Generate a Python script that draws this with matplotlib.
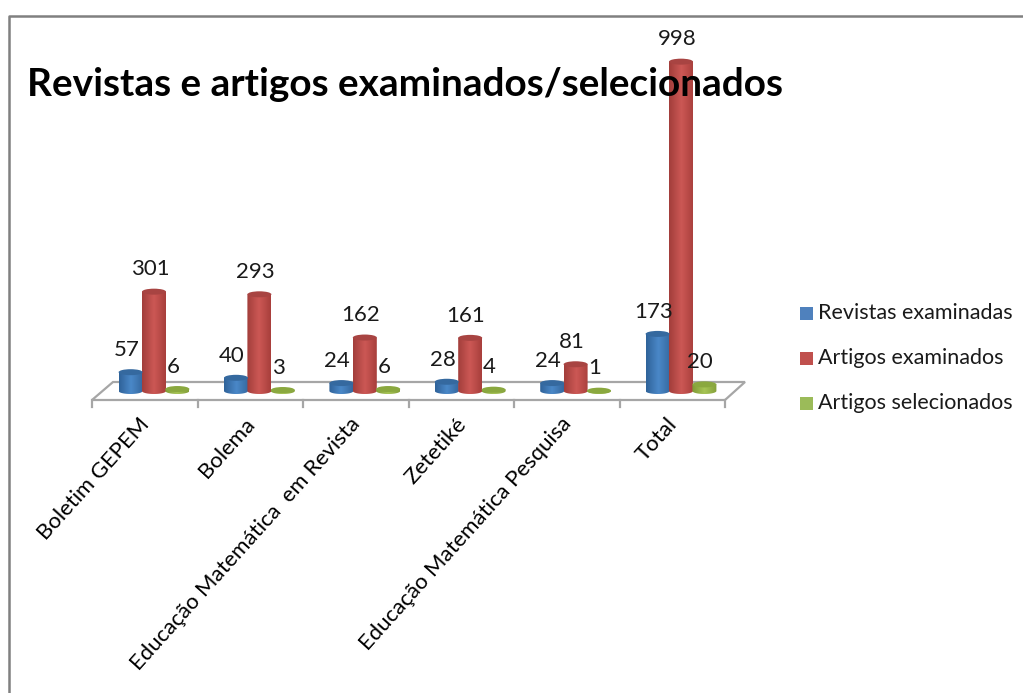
import numpy as np
import matplotlib
matplotlib.use("Agg")
import matplotlib.pyplot as plt
from matplotlib.patches import Ellipse, Polygon, Rectangle, PathPatch
from matplotlib.path import Path
from matplotlib.lines import Line2D
from matplotlib.colors import LinearSegmentedColormap

categories = ["Boletim GEPEM", "Bolema", "Educação Matemática  em Revista",
              "Zetetiké", "Educação Matemática Pesquisa", "Total"]
revistas = [57, 40, 24, 28, 24, 173]
artigos_exam = [301, 293, 162, 161, 81, 998]
artigos_sel = [6, 3, 6, 4, 1, 20]
series_names = ["Revistas examinadas", "Artigos examinados", "Artigos selecionados"]

W, H = 1023, 693
plt.rcParams["font.family"] = ["Lato", "DejaVu Sans"]

fig = plt.figure(figsize=(W / 100, H / 100), dpi=100)
ax = fig.add_axes([0, 0, 1, 1])

# axis scale: category i sits at 154 + 105.4*i px, value 0 at 391 px
X0, DX, Y0, SY = 154, 105.4, 391, 0.33
ax.set_xlim((0 - X0) / DX, (W - X0) / DX)
ax.set_ylim((Y0 - H) / SY, Y0 / SY)
ax.axis("off")


def fx(px):
    return (px - X0) / DX


def fy(py):
    return (Y0 - py) / SY


def cylinder(x, v, cols, top):
    w = 24 / DX
    eh = 6 / SY
    cmap = LinearSegmentedColormap.from_list("c", cols)
    im = ax.imshow(np.linspace(0, 1, 64).reshape(1, -1), cmap=cmap, aspect="auto",
                   extent=(x - w / 2, x + w / 2, -eh / 2, v), zorder=3 + x * 0.001)
    t = np.linspace(np.pi, 2 * np.pi, 30)
    verts = [(x - w / 2, v)] + [(x + w / 2 * np.cos(a), eh / 2 * np.sin(a)) for a in t] + [(x + w / 2, v), (x - w / 2, v)]
    clip = PathPatch(Path(verts), transform=ax.transData, fc="none", ec="none")
    ax.add_patch(clip)
    im.set_clip_path(clip)
    ax.add_patch(Ellipse((x, v), w, eh, fc=top, ec="none", zorder=3.5 + x * 0.001))


# floor and box edges
floor = [(92, 400), (113, 382), (745, 382), (725, 400)]
ax.add_patch(Polygon([(fx(a), fy(b)) for a, b in floor], closed=True, fc="white",
                     ec="#a6a6a6", lw=1.6, zorder=1))
for i in range(7):
    px = 92 + 105.5 * i
    ax.plot([fx(px), fx(px)], [fy(400), fy(407)], color="#a6a6a6", lw=1.6, zorder=1)

colors = [["#2f6299", "#4a88c8", "#35689f"],
          ["#a23e3b", "#cc5855", "#a83f3c"],
          ["#7f9a36", "#a6c455", "#84a03a"]]
tops = ["#35699f", "#a84442", "#8aa83f"]
offsets = [-0.222, 0, 0.222]

for s, vals in enumerate([revistas, artigos_exam, artigos_sel]):
    for i, v in enumerate(vals):
        x = i + offsets[s]
        cylinder(x, v, colors[s], tops[s])
        ax.annotate(str(v), (x, v), xytext=(-3, 16), textcoords="offset points",
                    ha="center", va="center", fontsize=16, color="#1a1a1a", zorder=6)

ax.set_xlim((0 - X0) / DX, (W - X0) / DX)
ax.set_ylim((Y0 - H) / SY, Y0 / SY)

# category labels
for i, c in enumerate(categories):
    ax.text(fx(92 + 105.5 * (i + 0.5) - 6), fy(414), c, rotation=48, rotation_mode="anchor",
            ha="right", va="top", fontsize=15.9, color="black", zorder=6)

# legend
for name, col, py in zip(series_names, ["#4f81bd", "#c0504d", "#9bbb59"], [313, 358, 403]):
    ax.add_patch(Rectangle((fx(800), fy(py + 6.5)), 13 / DX, 13 / SY, fc=col, ec="none", zorder=6))
    ax.text(fx(818), fy(py), name, fontsize=15.5, va="center", ha="left", color="#1a1a1a", zorder=6)

ax.text(fx(27), fy(85), "Revistas e artigos examinados/selecionados", fontsize=27.9,
        fontweight="bold", va="center", ha="left", color="black", zorder=7)

# outer frame
fig.add_artist(Line2D([8.5 / W, 8.5 / W, 1], [0, 1 - 16 / H, 1 - 16 / H], color="#808080", lw=1.8))

fig.savefig("out.png", dpi=100)
